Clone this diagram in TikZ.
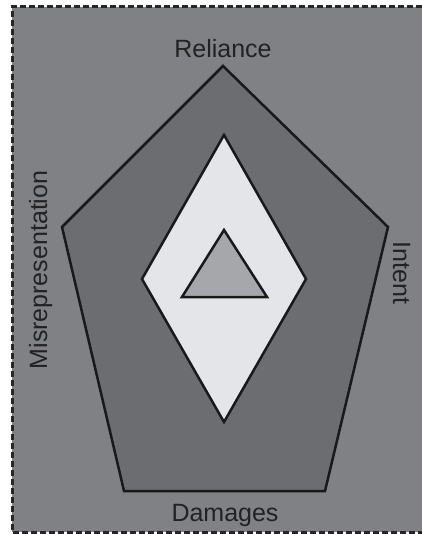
\documentclass[tikz,border=0pt]{standalone}
\usepackage{fontspec}
\setmainfont{Liberation Sans}
\usepackage{xcolor}
\usetikzlibrary{positioning}

\definecolor{bggray}{RGB}{128,129,133}
\definecolor{pentgray}{RGB}{108,109,113}
\definecolor{diamgray}{RGB}{228,229,232}
\definecolor{trigray}{RGB}{166,167,171}
\definecolor{txtgray}{RGB}{34,34,36}

\begin{document}
\begin{tikzpicture}[x=1pt,y=-1pt,
  shp/.style={draw=black!90,line width=2.5pt,line join=miter},
  lbl/.style={inner sep=0pt,anchor=base,text=txtgray,font=\fontsize{25}{30}\selectfont}]
\useasboundingbox (0,0) rectangle (421,534);
% outer frame
\fill[bggray] (12,7) rectangle (440,532);
\draw[black!85,line width=3pt,dash pattern=on 6pt off 3pt] (440,7) -- (12,7) -- (12,532) -- (440,532);
% pentagon
\coordinate (pt) at (223,66);
\coordinate (pl) at (62,227);
\coordinate (pr) at (388,227);
\coordinate (pbl) at (124,491);
\coordinate (pbr) at (325,491);
\draw[shp,fill=pentgray] (pt) -- (pr) -- (pbr) -- (pbl) -- (pl) -- cycle;
% diamond
\coordinate (dt) at (224,135);
\coordinate (dl) at (142,279);
\coordinate (dr) at (306,279);
\coordinate (db) at (224,422);
\draw[shp,fill=diamgray] (dt) -- (dr) -- (db) -- (dl) -- cycle;
% triangle
\coordinate (tt) at (224,230);
\coordinate (tl) at (182,297);
\coordinate (tr) at (267,297);
\draw[shp,fill=trigray] (tt) -- (tr) -- (tl) -- cycle;
% labels
\node[lbl] (rel) at (223,58) {Reliance};
\node[lbl] (dam) at (225,521) {Damages};
\node[lbl,rotate=-90] (int) at (393,273) {Intent};
\node[lbl,rotate=90] (mis) at (47,270) {Misrepresentation};
\end{tikzpicture}
\end{document}
